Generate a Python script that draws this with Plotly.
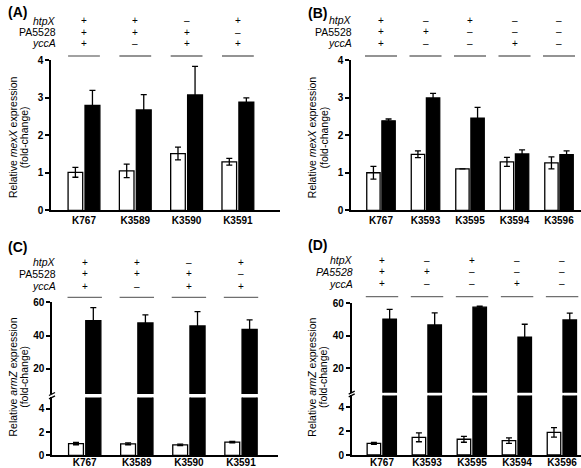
import plotly.graph_objects as go

W, H = 581, 468
FONT = "Liberation Sans, Arial, sans-serif"

# ---------------- data ----------------
cats_A = ["K767", "K3589", "K3590", "K3591"]
A_ctrl = [1.01, 1.05, 1.51, 1.29]
A_ctrl_err = [0.13, 0.18, 0.17, 0.09]
A_treat = [2.79, 2.67, 3.07, 2.88]
A_treat_err = [0.40, 0.41, 0.76, 0.11]

cats_B = ["K767", "K3593", "K3595", "K3594", "K3596"]
B_ctrl = [1.00, 1.49, 1.10, 1.29, 1.26]
B_ctrl_err = [0.17, 0.09, 0.0, 0.12, 0.16]
B_treat = [2.38, 2.99, 2.45, 1.50, 1.48]
B_treat_err = [0.05, 0.12, 0.29, 0.11, 0.10]

cats_C = ["K767", "K3589", "K3590", "K3591"]
C_ctrl = [1.01, 0.99, 0.90, 1.13]
C_ctrl_err = [0.10, 0.08, 0.07, 0.06]
C_treat = [49.0, 47.6, 45.8, 43.8]
C_treat_err = [7.8, 4.8, 8.6, 5.6]

cats_D = ["K767", "K3593", "K3595", "K3594", "K3596"]
D_ctrl = [0.98, 1.48, 1.32, 1.20, 1.90]
D_ctrl_err = [0.08, 0.37, 0.25, 0.23, 0.40]
D_treat = [50.2, 46.7, 57.6, 39.2, 49.8]
D_treat_err = [6.1, 7.4, 0.6, 7.9, 4.1]

# genotype rows
AC_htpX = ["+", "+", "\u2013", "+"]
AC_PA5528 = ["+", "+", "+", "\u2013"]
AC_yccA = ["+", "\u2013", "+", "+"]
BD_htpX = ["+", "\u2013", "+", "\u2013", "\u2013"]
BD_PA5528 = ["+", "+", "\u2013", "\u2013", "\u2013"]
BD_yccA = ["+", "\u2013", "\u2013", "+", "\u2013"]

A_ticks = [0, 1, 2, 3, 4]
C_low_ticks = [0, 2, 4]
C_up_ticks = [20, 40, 60]


def py(p):
    return 1 - p / H


def px(p):
    return p / W


fig = go.Figure()


def add_bars(cats, vals, errs, xa, ya, white, offset, width, show_err=True):
    fig.add_trace(go.Bar(
        x=cats, y=vals, width=width, offset=offset,
        marker=dict(color="white" if white else "black",
                    line=dict(color="black", width=1.3)),
        error_y=dict(type="data", array=errs, color="black",
                     thickness=1.3, width=3, visible=show_err),
        xaxis=xa, yaxis=ya, hoverinfo="skip"))


# Panel A
add_bars(cats_A, A_ctrl, A_ctrl_err, "x", "y", True, -0.31, 0.285)
add_bars(cats_A, A_treat, A_treat_err, "x", "y", False, 0.02, 0.29)
# Panel B
add_bars(cats_B, B_ctrl, B_ctrl_err, "x2", "y2", True, -0.32, 0.30)
add_bars(cats_B, B_treat, B_treat_err, "x2", "y2", False, 0.02, 0.30)
# Panel C (lower + upper)
add_bars(cats_C, C_ctrl, C_ctrl_err, "x3", "y3", True, -0.31, 0.285)
add_bars(cats_C, C_treat, C_treat_err, "x3", "y3", False, 0.02, 0.29, False)
add_bars(cats_C, C_treat, C_treat_err, "x4", "y4", False, 0.02, 0.29)
# Panel D (lower + upper)
add_bars(cats_D, D_ctrl, D_ctrl_err, "x5", "y5", True, -0.33, 0.30)
add_bars(cats_D, D_treat, D_treat_err, "x5", "y5", False, 0.02, 0.30, False)
add_bars(cats_D, D_treat, D_treat_err, "x6", "y6", False, 0.02, 0.30)

tickfont = dict(family=FONT, size=10, color="black", weight="bold")


def xax(domain, rng, anchor, visible=True, standoff=0):
    return dict(domain=domain, range=rng, anchor=anchor, type="category",
                showline=visible, linecolor="black", linewidth=1.5,
                ticks="", showgrid=False, zeroline=False, automargin=False,
                showticklabels=visible, tickfont=tickfont, visible=visible,
                ticklabelstandoff=standoff)


def yax(domain, rng, anchor, tickvals):
    return dict(domain=domain, range=rng, anchor=anchor,
                showline=True, linecolor="black", linewidth=1.5,
                ticks="outside", ticklen=4, tickwidth=1.5, tickcolor="black",
                tickvals=tickvals, showgrid=False, zeroline=False, automargin=False,
                tickfont=tickfont)


A_dom_y = [py(210.3), py(60)]
fig.update_layout(
    xaxis=xax([px(51), px(280)], [-0.643, 3.821], "y"),
    yaxis=yax(A_dom_y, [0, 4], "x", A_ticks),
    xaxis2=xax([px(351), 1.0], [-0.674, 4.494], "y2"),
    yaxis2=yax(A_dom_y, [0, 4], "x2", A_ticks),
    xaxis3=xax([px(52), px(278)], [-0.628, 3.71], "y3", standoff=-3),
    yaxis3=yax([py(455.3), py(397.4)], [0, 5], "x3", C_low_ticks),
    xaxis4=xax([px(52), px(278)], [-0.628, 3.71], "y4", False),
    yaxis4=yax([py(394), py(302.3)], [5, 60], "x4", C_up_ticks),
    xaxis5=xax([px(351.7), 1.0], [-0.673, 4.42], "y5", standoff=-3),
    yaxis5=yax([py(455), py(395.4)], [0, 5], "x5", C_low_ticks),
    xaxis6=xax([px(351.7), 1.0], [-0.673, 4.42], "y6", False),
    yaxis6=yax([py(392.7), py(303.3)], [5, 60], "x6", C_up_ticks),
)

shapes = []
annotations = []

# separator lines + genotype signs
panels = [
    ("x", cats_A, 56, [20.7, 32.3, 43.3], 58, False, 0.31, (AC_htpX, AC_PA5528, AC_yccA)),
    ("x2", cats_B, 56, [20.5, 32.0, 43.3], 354, False, 0.36, (BD_htpX, BD_PA5528, BD_yccA)),
    ("x3", cats_C, 297.3, [262.0, 273.8, 286.0], 58, False, 0.33, (AC_htpX, AC_PA5528, AC_yccA)),
    ("x5", cats_D, 296.7, [260.3, 271.8, 283.5], 355, True, 0.36, (BD_htpX, BD_PA5528, BD_yccA)),
]
row_names = ["htpX", "PA5528", "yccA"]
for xa, cats, line_y, rows_y, label_x, pa_italic, half, rows in panels:
    xref = xa
    for i, _ in enumerate(cats):
        shapes.append(dict(type="line", xref=xref, yref="paper",
                           x0=i - half, x1=i + half, y0=py(line_y), y1=py(line_y),
                           line=dict(color="#6f6f6f", width=1.3)))
        for r, signs in enumerate(rows):
            annotations.append(dict(xref=xref, yref="paper", x=i, y=py(rows_y[r]),
                                    text=signs[i], showarrow=False,
                                    xanchor="center", yanchor="middle",
                                    font=dict(family=FONT, size=10, color="black")))
    for r, name in enumerate(row_names):
        italic = name != "PA5528" or pa_italic
        txt = f"<i>{name}</i>" if italic else name
        annotations.append(dict(xref="paper", yref="paper", x=px(label_x), y=py(rows_y[r]),
                                text=txt, showarrow=False, xanchor="right", yanchor="middle",
                                font=dict(family=FONT, size=10.5, color="black")))

# panel letters
for letter, lx, ly in [("(A)", 6, 12), ("(B)", 306, 13), ("(C)", 6, 247), ("(D)", 306, 245)]:
    annotations.append(dict(xref="paper", yref="paper", x=px(lx), y=py(ly), text=f"<b>{letter}</b>",
                            showarrow=False, xanchor="left", yanchor="middle",
                            font=dict(family=FONT, size=14, color="black")))

# y titles
for gene, x1, x2, yc in [("mexX", 12.5, 23.8, 137.5), ("mexX", 311.7, 323, 137.5),
                         ("armZ", 12.5, 23.8, 377), ("armZ", 311.7, 323, 377)]:
    annotations.append(dict(xref="paper", yref="paper", x=px(x1), y=py(yc),
                            text=f"Relative <i>{gene}</i> expression", textangle=-90,
                            showarrow=False, xanchor="center", yanchor="middle",
                            font=dict(family=FONT, size=10.5, color="black")))
    annotations.append(dict(xref="paper", yref="paper", x=px(x2), y=py(yc),
                            text="(fold-change)", textangle=-90,
                            showarrow=False, xanchor="center", yanchor="middle",
                            font=dict(family=FONT, size=10.5, color="black")))

# axis break marks
for ax_x, y_up, y_low in [(52, 394, 397.4), (351.7, 392.7, 395.4)]:
    for yy in (y_up, y_low):
        shapes.append(dict(type="line", xref="paper", yref="paper",
                           x0=px(ax_x - 3), x1=px(ax_x + 3), y0=py(yy + 1.5), y1=py(yy - 1.5),
                           line=dict(color="black", width=1.3)))

fig.update_layout(
    width=W, height=H, margin=dict(l=0, r=0, t=0, b=0),
    plot_bgcolor="white", paper_bgcolor="white",
    barmode="overlay", showlegend=False,
    shapes=shapes, annotations=annotations,
    font=dict(family=FONT, color="black"),
)

fig.write_html("out.html", config={"displayModeBar": False},
               post_script="document.body.style.margin='0';document.body.style.overflow='hidden';")
